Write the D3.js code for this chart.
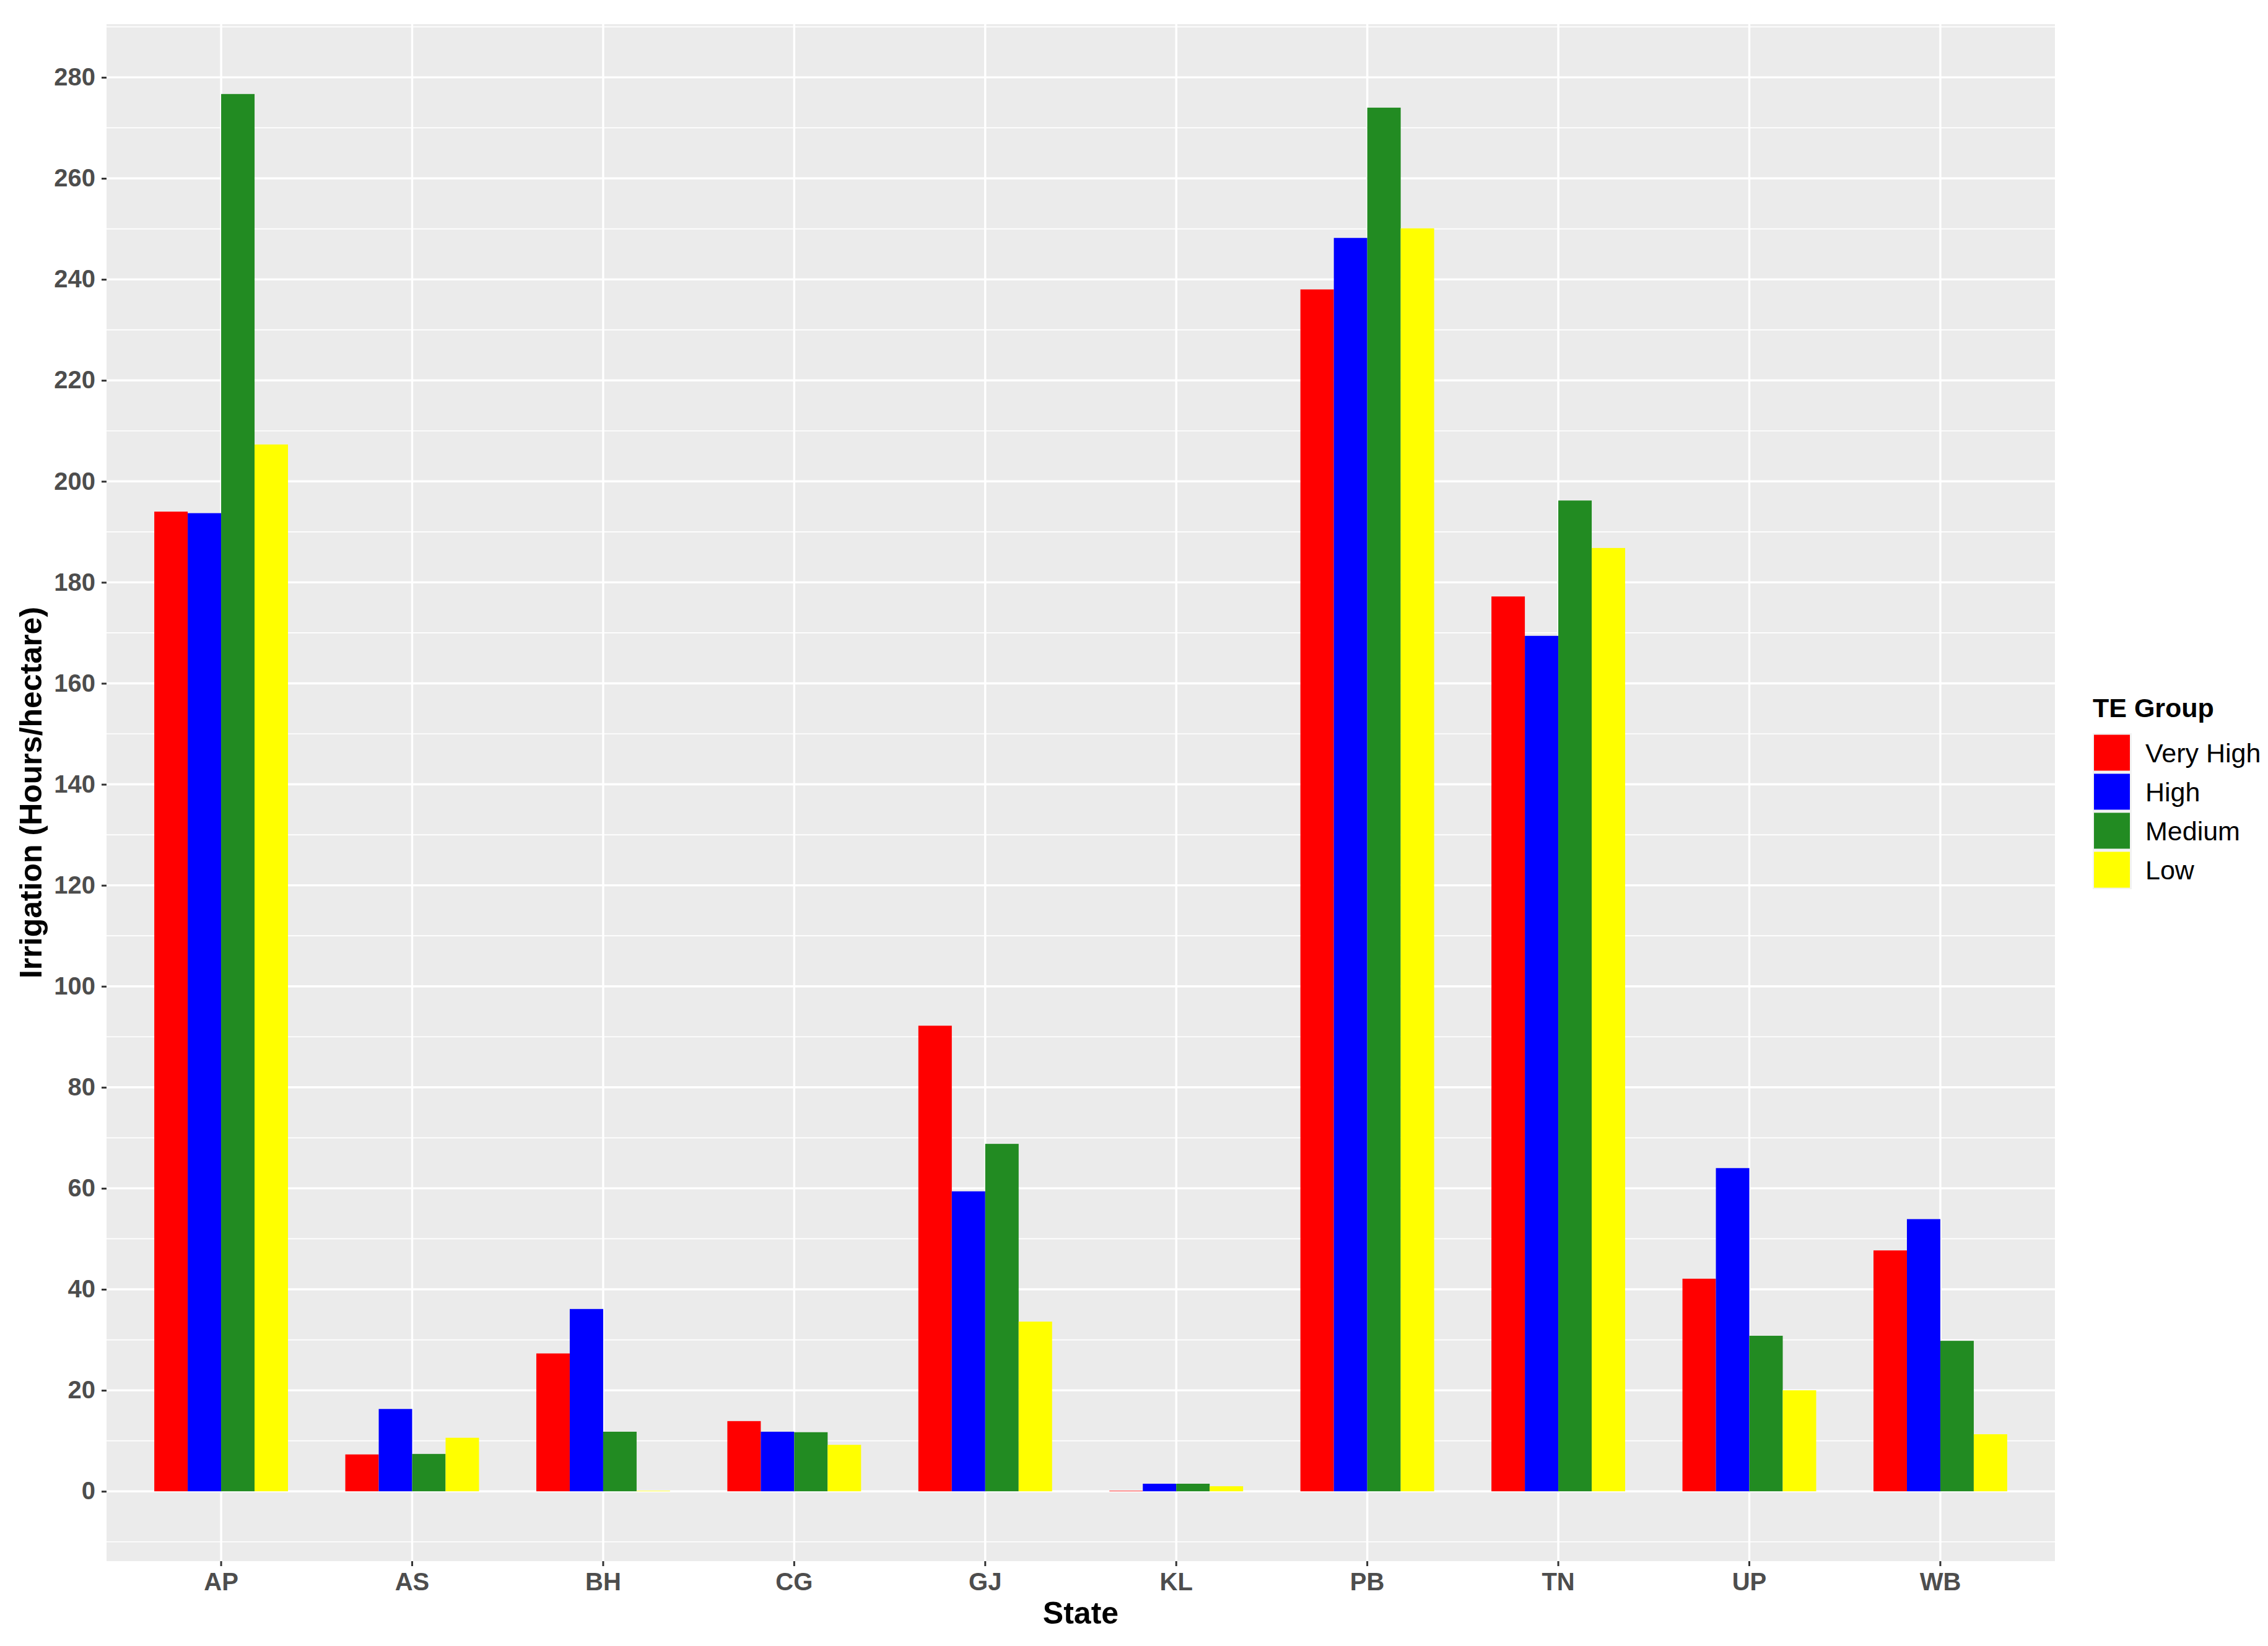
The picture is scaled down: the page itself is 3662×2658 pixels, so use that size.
<!DOCTYPE html>
<html>
<head>
    <meta charset="utf-8">
    <title>Irrigation by State and TE Group</title>
    <style>
        body { margin: 0; background: #ffffff; }
        svg text { font-family: "Liberation Sans", Arial, sans-serif; }
    </style>
</head>
<body>

<main></main>

<script src="https://cdn.jsdelivr.net/npm/d3@7"></script>
<script>
    // data ===============================================
    var states = ["AP", "AS", "BH", "CG", "GJ", "KL", "PB", "TN", "UP", "WB"];
    var groups = ["Very High", "High", "Medium", "Low"];
    var groupColors = ["#ff0000", "#0000ff", "#228b22", "#ffff00"];

    var veryHigh = [194.0, 7.3, 27.3, 13.9, 92.2, 0.1, 238.0, 177.2, 42.1, 47.7];
    var high     = [193.7, 16.3, 36.1, 11.8, 59.4, 1.5, 248.2, 169.4, 64.0, 53.9];
    var medium   = [276.7, 7.4, 11.8, 11.7, 68.8, 1.5, 274.0, 196.2, 30.8, 29.8];
    var low      = [207.3, 10.6, 0.1, 9.2, 33.6, 1.0, 250.1, 186.8, 20.0, 11.3];

    var yTicks = [0, 20, 40, 60, 80, 100, 120, 140, 160, 180, 200, 220, 240, 260, 280];

    var series = [veryHigh, high, medium, low];

    // layout ==============================================
    var width = 3662;
    var height = 2658;
    var panel = {left: 172, right: 3318, top: 39, bottom: 2521};

    var svg = d3.select("main")
        .append("svg")
        .attr("width", width)
        .attr("height", height);

    // scales ==============================================
    var x = d3.scaleBand()
        .domain(states)
        .range([panel.left, panel.right])
        .paddingInner(0.3)
        .paddingOuter(0.25);

    var xGroup = d3.scaleBand()
        .domain(groups)
        .range([0, x.bandwidth()])
        .padding(0);

    var maxVal = d3.max(series, function (s) { return d3.max(s); });
    var pad = maxVal * 0.05; // ggplot style expansion
    var y = d3.scaleLinear()
        .domain([-pad, maxVal + pad])
        .range([panel.bottom, panel.top]);

    var color = d3.scaleOrdinal().domain(groups).range(groupColors);

    // panel background + grid =============================
    svg.append("rect")
        .attr("x", panel.left)
        .attr("y", panel.top)
        .attr("width", panel.right - panel.left)
        .attr("height", panel.bottom - panel.top)
        .attr("fill", "#ebebeb");

    // minor y grid (midpoints)
    var minor = d3.range(-10, maxVal + pad, 20);
    svg.append("g").selectAll("line")
        .data(minor)
        .enter().append("line")
        .attr("x1", panel.left).attr("x2", panel.right)
        .attr("y1", function (d) { return y(d); })
        .attr("y2", function (d) { return y(d); })
        .attr("stroke", "#ffffff")
        .attr("stroke-width", 1.7);

    // major y grid
    svg.append("g").selectAll("line")
        .data(yTicks)
        .enter().append("line")
        .attr("x1", panel.left).attr("x2", panel.right)
        .attr("y1", function (d) { return y(d); })
        .attr("y2", function (d) { return y(d); })
        .attr("stroke", "#ffffff")
        .attr("stroke-width", 3.4);

    // major x grid
    svg.append("g").selectAll("line")
        .data(states)
        .enter().append("line")
        .attr("x1", function (d) { return x(d) + x.bandwidth() / 2; })
        .attr("x2", function (d) { return x(d) + x.bandwidth() / 2; })
        .attr("y1", panel.top).attr("y2", panel.bottom)
        .attr("stroke", "#ffffff")
        .attr("stroke-width", 3.4);

    // bars ================================================
    var rows = states.map(function (s, i) {
        return {
            state: s,
            values: groups.map(function (g, j) {
                return {group: g, value: series[j][i]};
            })
        };
    });

    var stateG = svg.append("g").selectAll("g")
        .data(rows)
        .enter().append("g")
        .attr("transform", function (d) { return "translate(" + x(d.state) + ",0)"; });

    stateG.selectAll("rect")
        .data(function (d) { return d.values; })
        .enter().append("rect")
        .attr("x", function (d) { return xGroup(d.group); })
        .attr("y", function (d) { return y(d.value); })
        .attr("width", xGroup.bandwidth())
        .attr("height", function (d) { return y(0) - y(d.value); })
        .attr("fill", function (d) { return color(d.group); });

    // axes ================================================
    var yAxis = svg.append("g")
        .attr("transform", "translate(" + panel.left + ",0)")
        .call(d3.axisLeft(y).tickValues(yTicks).tickSize(8).tickPadding(10));

    var xAxis = svg.append("g")
        .attr("transform", "translate(0," + panel.bottom + ")")
        .call(d3.axisBottom(x).tickSize(8).tickPadding(11));

    [yAxis, xAxis].forEach(function (ax) {
        ax.select(".domain").remove();
        ax.selectAll(".tick line").attr("stroke", "#333333").attr("stroke-width", 3);
        ax.selectAll(".tick text")
            .attr("fill", "#4d4d4d")
            .attr("font-size", "40px")
            .attr("font-weight", "bold");
    });

    // axis titles =========================================
    svg.append("text")
        .attr("x", (panel.left + panel.right) / 2)
        .attr("y", 2622)
        .attr("text-anchor", "middle")
        .attr("font-size", "50px")
        .attr("font-weight", "bold")
        .attr("fill", "#000000")
        .text("State");

    svg.append("text")
        .attr("transform", "translate(67," + ((panel.top + panel.bottom) / 2) + ") rotate(-90)")
        .attr("text-anchor", "middle")
        .attr("font-size", "50px")
        .attr("font-weight", "bold")
        .attr("fill", "#000000")
        .text("Irrigation (Hours/hectare)");

    // legend ==============================================
    var legend = svg.append("g").attr("transform", "translate(3379,0)");

    legend.append("text")
        .attr("x", 0)
        .attr("y", 1158)
        .attr("font-size", "43px")
        .attr("font-weight", "bold")
        .attr("fill", "#000000")
        .text("TE Group");

    var keySize = 63;
    var keyTop = 1184;

    var item = legend.selectAll("g.key")
        .data(groups)
        .enter().append("g")
        .attr("class", "key")
        .attr("transform", function (d, i) { return "translate(0," + (keyTop + i * keySize) + ")"; });

    item.append("rect")
        .attr("width", keySize)
        .attr("height", keySize)
        .attr("fill", "#f2f2f2");

    item.append("rect")
        .attr("x", 2)
        .attr("y", 2.5)
        .attr("width", keySize - 5)
        .attr("height", keySize - 5)
        .attr("fill", function (d) { return color(d); });

    item.append("text")
        .attr("x", 85)
        .attr("y", keySize / 2)
        .attr("dy", "0.36em")
        .attr("font-size", "43px")
        .attr("fill", "#000000")
        .text(function (d) { return d; });
</script>
</body>
</html>
